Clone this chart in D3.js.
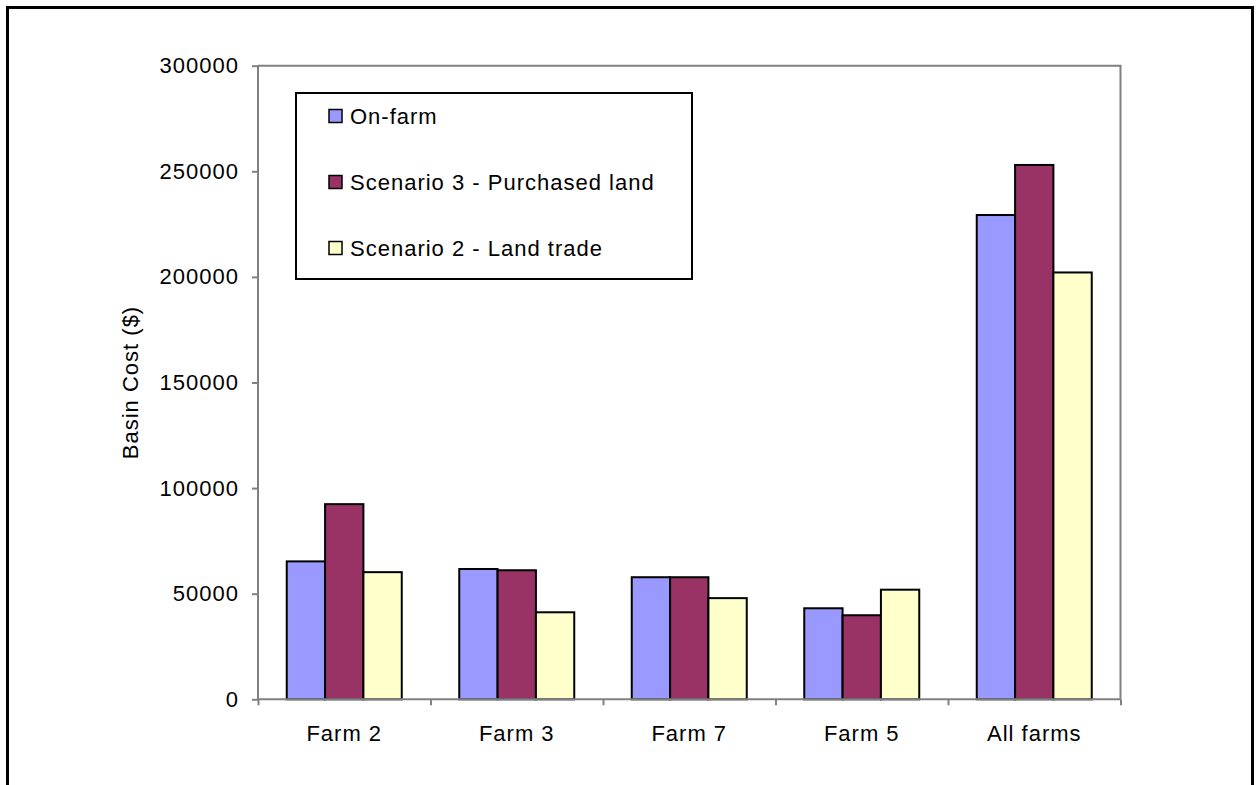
<!DOCTYPE html>
<html>
<head>
<meta charset="utf-8">
<script src="https://cdn.jsdelivr.net/npm/d3@7"></script>
<style>
  body { margin: 0; background: #fff; }
  text { font-family: "Liberation Sans", Arial, sans-serif; fill: #000; letter-spacing: 1px; }
</style>
</head>
<body>
<div id="chart"></div>
<script>
// Data
const farms = ["Farm 2", "Farm 3", "Farm 7", "Farm 5", "All farms"];
const seriesNames = ["On-farm", "Scenario 3 - Purchased land", "Scenario 2 - Land trade"];
const onFarm = [65300, 61700, 57800, 43100, 229300];
const purchasedLand = [92400, 61100, 57800, 39800, 253000];
const landTrade = [60200, 41200, 47900, 51900, 202100];
const yTicks = [0, 50000, 100000, 150000, 200000, 250000, 300000];
const colors = ["#9999ff", "#993366", "#ffffcc"];

const svgWidth = 1260;
const svgHeight = 785;
const margin = { top: 65.7, left: 258 };
const width = 862.5;
const height = 633.6;

const svg = d3.select("#chart")
    .append("svg")
    .attr("width", svgWidth)
    .attr("height", svgHeight);

// outer frame
svg.append("rect")
    .attr("x", 7.5).attr("y", 7.5)
    .attr("width", 1245).attr("height", 800)
    .attr("fill", "none")
    .attr("stroke", "#000")
    .attr("stroke-width", 3);

const chartGroup = svg.append("g")
    .attr("transform", `translate(${margin.left}, ${margin.top})`);

const rows = farms.map((f, i) => ({
    farm: f,
    values: [onFarm[i], purchasedLand[i], landTrade[i]]
}));

// scales
const x0 = d3.scaleBand()
    .domain(farms)
    .range([0, width])
    .paddingInner(1 / 3)
    .paddingOuter(1 / 6);

const x1 = d3.scaleBand()
    .domain(d3.range(seriesNames.length))
    .range([0, x0.bandwidth()]);

const xTick = d3.scaleLinear().domain([0, farms.length]).range([0, width]);

const y = d3.scaleLinear().domain([0, 300000]).range([height, 0]);

// plot frame (top / right)
chartGroup.append("path")
    .attr("d", `M0,0H${width}V${height}`)
    .attr("fill", "none")
    .attr("stroke", "#808080")
    .attr("stroke-width", 2);

// y axis
const leftAxis = d3.axisLeft(y)
    .tickValues(yTicks)
    .tickFormat(d3.format("d"))
    .tickSize(6)
    .tickPadding(13);

const yAxisG = chartGroup.append("g").call(leftAxis);
yAxisG.selectAll("text").style("font-size", "22px").attr("fill", "#000");
yAxisG.selectAll("line, path").attr("stroke", "#808080").attr("stroke-width", 2);
yAxisG.select(".domain").attr("d", `M0,0V${height}`);

// bars
const groups = chartGroup.selectAll("g.farm")
    .data(rows)
    .enter()
    .append("g")
    .attr("class", "farm")
    .attr("transform", d => `translate(${x0(d.farm)},0)`);

groups.selectAll("rect")
    .data(d => d.values.map((v, i) => ({ i: i, v: v })))
    .enter()
    .append("rect")
    .attr("x", d => x1(d.i))
    .attr("y", d => y(d.v))
    .attr("width", x1.bandwidth())
    .attr("height", d => height - y(d.v))
    .attr("fill", d => colors[d.i])
    .attr("stroke", "#000")
    .attr("stroke-width", 2);

// x axis with ticks at category boundaries
const bottomAxis = d3.axisBottom(xTick)
    .tickValues(d3.range(farms.length + 1))
    .tickFormat("")
    .tickSize(6);

const xAxisG = chartGroup.append("g")
    .attr("transform", `translate(0, ${height})`)
    .call(bottomAxis);
xAxisG.selectAll("line, path").attr("stroke", "#808080").attr("stroke-width", 2);
xAxisG.select(".domain").attr("d", `M0,0H${width}`);

chartGroup.selectAll("text.xlab")
    .data(farms)
    .enter()
    .append("text")
    .attr("class", "xlab")
    .attr("x", d => x0(d) + x0.bandwidth() / 2)
    .attr("y", height + 41.5)
    .attr("text-anchor", "middle")
    .style("font-size", "22px")
    .text(d => d);

// y axis title
chartGroup.append("text")
    .attr("transform", "rotate(-90)")
    .attr("x", -height / 2)
    .attr("y", -margin.left + 138)
    .attr("text-anchor", "middle")
    .style("font-size", "22px")
    .text("Basin Cost ($)");

// legend
const legend = svg.append("g").attr("transform", "translate(296, 93)");
legend.append("rect")
    .attr("width", 396)
    .attr("height", 186)
    .attr("fill", "#fff")
    .attr("stroke", "#000")
    .attr("stroke-width", 2);

const legendItems = legend.selectAll("g.item")
    .data(seriesNames)
    .enter()
    .append("g")
    .attr("class", "item")
    .attr("transform", (d, i) => `translate(33, ${23 + i * 66})`);

legendItems.append("rect")
    .attr("width", 13)
    .attr("height", 13)
    .attr("y", -6.5)
    .attr("fill", (d, i) => colors[i])
    .attr("stroke", "#000")
    .attr("stroke-width", 1.5);

legendItems.append("text")
    .attr("x", 21)
    .attr("dy", "0.35em")
    .style("font-size", "22px")
    .text(d => d);
</script>
</body>
</html>
